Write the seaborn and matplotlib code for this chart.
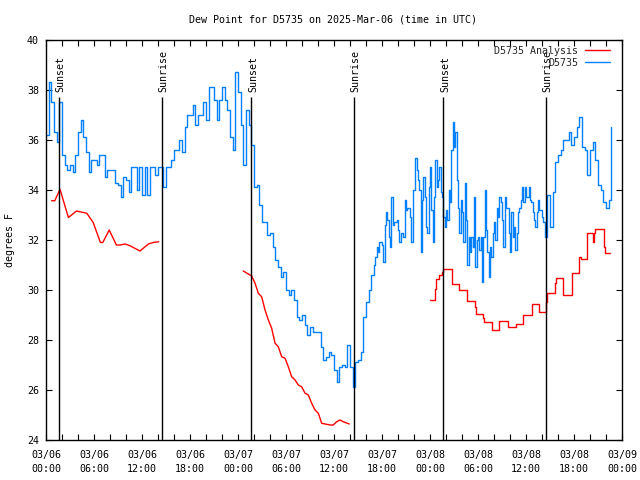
import numpy as np
import pandas as pd
import matplotlib
matplotlib.use("Agg")
import matplotlib.pyplot as plt
import matplotlib.dates as mdates
import seaborn as sns

# ---------------- data ----------------
start = pd.Timestamp("2025-03-06 00:00")

# Observed dew point (D5735)
# part A: 20-minute readings from 03/06 00:00 (hour 0) to hour 40:40
blue_a_values = [
    36.2, 38.3, 37.5,  36.3, 35.9, 37.5,  35.4, 35.0, 34.8,  35.0, 34.7, 35.4,
    36.3, 36.8, 36.1,  35.5, 34.7, 35.2,  35.2, 35.0, 35.4,  35.4, 34.5, 34.8,
    34.8, 34.8, 34.3,  34.2, 33.7, 34.5,  34.4, 33.9, 34.9,  34.9, 34.0, 34.9,
    33.8, 34.9, 33.8,  34.9, 34.9, 34.6,  34.9, 34.9, 34.1,  34.9, 34.9, 35.2,
    35.6, 35.6, 36.0,  35.5, 36.5, 37.0,  37.0, 37.4, 36.6,  37.0, 37.0, 37.5,
    36.8, 38.1, 38.1,  37.6, 36.8, 37.6,  38.1, 37.6, 37.2,  36.1, 35.6, 38.7,
    37.9, 36.6, 35.0,  37.2, 36.6, 35.8,  34.1, 34.2, 33.4,  32.7, 32.7, 32.2,
    32.3, 31.7, 31.2,  30.9, 30.5, 30.7,  30.0, 29.8, 30.0,  29.6, 28.9, 28.8,
    29.0, 28.6, 28.2,  28.5, 28.3, 28.3,  28.3, 27.7, 27.2,  27.3, 27.5, 27.4,
    26.8, 26.3, 26.9,  27.0, 26.9, 27.8,  26.9, 26.1, 27.1,  27.2, 27.5, 28.9,
    29.5, 30.0, 30.6,
]
# part B: 10-minute readings from hour 41:00 to hour 62:20
blue_b_values = [
    31.0, 31.3, 31.7, 31.5, 31.9, 31.9,
    31.8, 31.1, 32.6, 33.1, 32.8, 32.1,
    31.7, 33.7, 32.6, 32.7, 32.7, 32.8,
    32.4, 31.9, 32.3, 32.3, 32.1, 33.6,
    33.2, 33.3, 33.3, 32.9, 31.9, 34.0,
    34.0, 35.3, 34.8, 34.4, 34.0, 31.5,
    33.6, 34.5, 33.7, 32.5, 32.3, 34.1,
    34.9, 33.2, 31.9, 33.7, 35.2, 34.1,
    34.4, 34.9, 33.9, 33.7, 32.9, 32.5,
    33.2, 32.8, 34.0, 33.5, 35.6, 36.7,
    35.7, 36.3, 34.4, 33.3, 32.3, 33.6,
    33.1, 31.9, 34.3, 32.8, 31.0, 32.1,
    31.5, 32.1, 31.7, 33.7, 30.9, 32.0,
    32.1, 31.6, 32.1, 30.3, 32.1, 34.0,
    32.4, 31.5, 30.5, 31.7, 31.3, 32.3,
    32.7, 32.0, 33.3, 32.9, 33.7, 33.5,
    32.8, 31.7, 33.7, 33.3, 33.3, 32.3,
    31.5, 33.1, 32.1, 32.5, 31.6, 32.3,
    33.1, 33.3, 33.6, 34.1, 33.5, 34.1,
    33.7, 33.7, 34.1, 33.6, 33.5, 33.1,
    32.8, 32.5, 33.1, 33.6, 33.2, 33.2,
    32.9, 32.7, 32.1,
]
# part C: 20-minute readings from hour 62:40 to hour 70:40
blue_c_values = [
    33.8, 32.5, 33.9, 35.1, 35.4, 35.6, 36.0, 36.0, 36.3, 35.8, 36.1, 36.5,
    36.9, 35.7, 35.6, 34.6, 35.6, 35.9, 35.2, 34.2, 34.0, 33.5, 33.3, 33.6,
    36.5,
]
blue_part_start_hours = [0.0, 41.0, 62 + 40 / 60]
blue_part_freqs = ["20min", "10min", "20min"]

# Analysis dew point (D5735 Analysis), hours after 03/06 00:00
red_a_hours = [0.7, 1.1, 1.75, 2.4, 2.8, 3.2, 3.8, 5.1, 5.9, 6.8, 7.1, 7.9,
               8.8, 9.25, 9.9, 10.5, 11.75, 12.8, 13.4, 14.1]
red_a_values = [33.57, 33.57, 34.03, 33.33, 32.9, 33.0, 33.16, 33.07, 32.7,
                31.9, 31.9, 32.4, 31.8, 31.8, 31.84, 31.77, 31.56, 31.84,
                31.9, 31.93]

red_b_hours = [24.66, 25.29, 25.71, 26.13, 26.54, 26.96, 27.38, 27.79, 28.21,
               28.63, 29.04, 29.46, 29.88, 30.29, 30.71, 31.13, 31.54, 31.96,
               32.38, 32.79, 33.21, 33.63, 34.04, 34.46, 34.88, 35.5, 35.9,
               36.34, 36.75, 37.16, 37.9]
red_b_values = [30.76, 30.64, 30.56, 30.27, 29.87, 29.73, 29.2, 28.8, 28.47,
                27.87, 27.73, 27.33, 27.27, 26.93, 26.53, 26.4, 26.2, 26.13,
                25.87, 25.8, 25.47, 25.2, 25.07, 24.67, 24.64, 24.6, 24.6,
                24.73, 24.8, 24.73, 24.64]

red_c_hours = [48.0, 48.6, 48.75, 49.1, 49.46, 49.67, 50.7, 51.66, 52.66,
               53.6, 53.75, 54.66, 54.8, 55.7, 56.66, 57.7, 58.7, 59.66,
               60.7, 61.66, 62.56, 62.66, 63.6, 63.8, 64.66, 65.7, 66.66,
               66.9, 67.66, 68.4, 68.5, 68.66, 69.7, 69.9, 70.5]
red_c_values = [29.6, 30.03, 30.45, 30.6, 30.7, 30.83, 30.24, 30.0, 29.56,
                29.3, 29.04, 28.87, 28.7, 28.4, 28.75, 28.5, 28.63, 29.0,
                29.44, 29.12, 29.53, 29.87, 30.27, 30.47, 29.8, 30.67, 31.33,
                31.23, 32.3, 31.9, 32.3, 32.43, 31.73, 31.47, 31.47]

sunset_hours = [1.66, 25.67, 49.67]
sunrise_hours = [14.54, 38.54, 62.44]

y_ticks = [24, 26, 28, 30, 32, 34, 36, 38, 40]

title = "Dew Point for D5735 on 2025-Mar-06 (time in UTC)"
ylabel = "degrees F"
series_names = ["D5735 Analysis", "D5735"]


def to_time(hours):
    return [start + pd.Timedelta(hours=h) for h in hours]


blue_parts = []
for vals, h0, fq in zip([blue_a_values, blue_b_values, blue_c_values],
                        blue_part_start_hours, blue_part_freqs):
    blue_parts.append(pd.DataFrame({
        "time": pd.date_range(start + pd.Timedelta(hours=h0),
                              periods=len(vals), freq=fq),
        "dewpoint": vals,
    }))
blue_df = pd.concat(blue_parts, ignore_index=True)

red_a = pd.DataFrame({"time": to_time(red_a_hours), "dewpoint": red_a_values})
red_b = pd.DataFrame({"time": to_time(red_b_hours), "dewpoint": red_b_values})
red_c = pd.DataFrame({"time": to_time(red_c_hours), "dewpoint": red_c_values})

# ---------------- style ----------------
sns.set_style("ticks")
plt.rcParams["font.family"] = ["DejaVu Sans Mono", "DejaVu Sans"]
FS = 7.2
RED = "#ff0000"
BLUE = "#0080ff"

fig = plt.figure(figsize=(6.4, 4.8), dpi=100)
fig.patch.set_facecolor("white")
ax = fig.add_axes([46 / 640, 40 / 480, 576 / 640, 400 / 480])
ax.set_facecolor("white")

# ---------------- plot ----------------
sns.lineplot(data=red_a, x="time", y="dewpoint", ax=ax, color=RED, lw=1.0,
             estimator=None, sort=False, legend=False)
red_handle = ax.lines[-1]
sns.lineplot(data=red_b, x="time", y="dewpoint", ax=ax, color=RED, lw=1.0,
             estimator=None, sort=False, legend=False)
sns.lineplot(data=red_c, x="time", y="dewpoint", ax=ax, color=RED, lw=1.0,
             estimator=None, sort=False, legend=False, drawstyle="steps-post")
sns.lineplot(data=blue_df, x="time", y="dewpoint", ax=ax, color=BLUE, lw=1.0,
             estimator=None, sort=False, legend=False, drawstyle="steps-post")
blue_handle = ax.lines[-1]

# sunrise / sunset markers
for hours, name in [(sunset_hours, "Sunset"), (sunrise_hours, "Sunrise")]:
    times = to_time(hours)
    ax.vlines(times, 24, 37.72, colors="black", lw=1.0)
    for t in times:
        ax.text(mdates.date2num(t) + 0.008, 37.92, name, rotation=90,
                ha="center", va="bottom", fontsize=FS, color="black")

# ---------------- axes ----------------
ax.set_xlim(start, start + pd.Timedelta(days=3))
ax.set_ylim(24, 40)
ax.set_yticks(y_ticks)
ax.set_yticklabels([str(v) for v in y_ticks])

ax.xaxis.set_major_locator(mdates.HourLocator(byhour=range(0, 24, 6)))
ax.xaxis.set_major_formatter(mdates.DateFormatter("%m/%d\n%H:%M"))
ax.xaxis.set_minor_locator(mdates.HourLocator(byhour=range(0, 24, 2)))

ax.tick_params(axis="both", which="both", direction="in", top=True, right=True,
               length=4, width=0.8, color="black", labelsize=FS,
               labelcolor="black")
ax.tick_params(axis="x", which="major", pad=7)
ax.tick_params(axis="y", which="major", pad=5)
for lbl in ax.get_xticklabels():
    lbl.set_linespacing(1.5)

for s in ax.spines.values():
    s.set_visible(True)
    s.set_color("black")
    s.set_linewidth(1.0)

ax.set_xlabel("")
ax.set_ylabel("")
fig.text(333 / 640, 1 - 20 / 480, title, ha="center", va="center",
         fontsize=FS, color="black")
fig.text(10 / 640, 0.5, ylabel, rotation=90, ha="center", va="center",
         fontsize=FS, color="black")

leg = ax.legend([red_handle, blue_handle], series_names, loc="upper right",
                bbox_to_anchor=(0.979, 0.985), bbox_transform=ax.transAxes,
                frameon=False, markerfirst=False, handlelength=2.5,
                handletextpad=0.7, labelspacing=0.2, borderpad=0,
                borderaxespad=0, fontsize=FS)

fig.savefig("out.png", dpi=100, facecolor="white")
